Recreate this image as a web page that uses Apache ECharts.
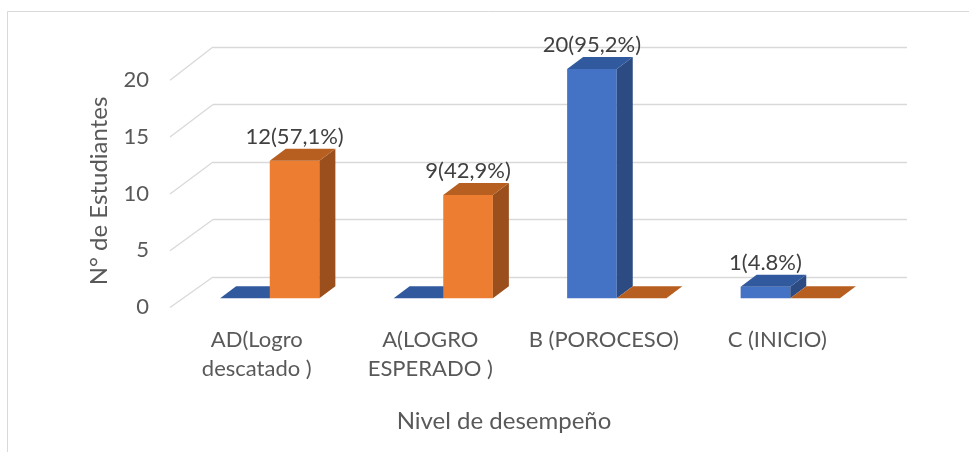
<!DOCTYPE html>
<html>
<head>
<meta charset="utf-8">
<script src="https://cdn.jsdelivr.net/npm/echarts@6/dist/echarts.min.js"></script>
<style>html,body{margin:0;padding:0;background:#fff;}#main{width:969px;height:452px;}</style>
</head>
<body>
<div id="main"></div>
<script>
// ---- data ----
const categories = ['AD(Logro\ndescatado )', 'A(LOGRO\nESPERADO )', 'B (POROCESO)', 'C (INICIO)'];
const blueValues = [0, 0, 20, 1];
const orangeValues = [12, 9, 0, 0];
const blueLabels = ['', '', '20(95,2%)', '1(4.8%)'];
const orangeLabels = ['12(57,1%)', '9(42,9%)', '', ''];
const yTicks = [0, 5, 10, 15, 20];
const xAxisTitle = 'Nivel de desempeño';
const yAxisTitle = 'N° de Estudiantes';

// ---- styling ----
const FONT = 'Lato';
const LABEL_SIZE = 22;
const TITLE_SIZE = 24;
const GRID_COLOR = '#d9d9d9';
const DX = 16, DY = -12;          // bar depth offset
const WALL_DX = -43;              // back wall -> front floor offset
const blueStyle = { front: '#4472C4', top: '#31599E', side: '#2B4B82' };
const orangeStyle = { front: '#ED7D31', top: '#B75F21', side: '#9A4F1C' };

function barRenderer(style, labels, leftSide) {
  return function (params, api) {
    const i = api.value(0), v = api.value(1);
    const base = api.coord([i, 0]);
    const top = api.coord([i, v]);
    const band = api.size([1, 0])[0];
    const w = band * 0.286;
    const x0 = leftSide ? base[0] - w : base[0];
    const x1 = x0 + w;
    const yb = base[1], yt = top[1];
    const children = [];
    if (v > 0) {
      children.push({ type: 'rect', shape: { x: x0, y: yt, width: w, height: yb - yt },
        style: { fill: style.front } });
      children.push({ type: 'polygon', shape: { points: [[x1, yt], [x1 + DX, yt + DY], [x1 + DX, yb + DY], [x1, yb]] },
        style: { fill: style.side } });
    }
    children.push({ type: 'polygon', shape: { points: [[x0, yt], [x0 + DX, yt + DY], [x1 + DX, yt + DY], [x1, yt]] },
      style: { fill: style.top } });
    const lab = labels[params.dataIndex];
    if (lab) {
      children.push({ type: 'text', z2: 10, style: { text: lab, x: (x0 + x1) / 2, y: yt + DY - 1,
        align: 'center', verticalAlign: 'bottom', fill: '#404040',
        font: LABEL_SIZE + 'px ' + FONT } });
    }
    return { type: 'group', children: children };
  };
}

const chart = echarts.init(document.getElementById('main'), null, { renderer: 'canvas' });
chart.setOption({
  animation: false,
  backgroundColor: '#ffffff',
  textStyle: { fontFamily: FONT },
  grid: [
    { left: 213, top: 47, width: 694, height: 230 },   // back wall
    { left: 170, top: 80, width: 694, height: 227 },   // front floor (labels)
    { left: 183, top: 69, width: 694, height: 229.3 }  // bar front plane
  ],
  xAxis: [
    { gridIndex: 0, type: 'category', data: categories, show: false },
    { gridIndex: 1, type: 'category', data: categories,
      axisLine: { show: false }, axisTick: { show: false },
      axisLabel: { fontSize: LABEL_SIZE, lineHeight: 29, color: '#595959', margin: 18, interval: 0, fontFamily: FONT } },
    { gridIndex: 2, type: 'category', data: categories, show: false }
  ],
  yAxis: [
    { gridIndex: 0, type: 'value', min: 0, max: 20, interval: 5,
      axisLine: { show: false }, axisTick: { show: false }, axisLabel: { show: false },
      splitLine: { show: true, lineStyle: { color: GRID_COLOR, width: 1.3 } } },
    { gridIndex: 1, type: 'value', min: 0, max: 20, interval: 5,
      axisLine: { show: false }, axisTick: { show: false }, splitLine: { show: false },
      axisLabel: { fontSize: LABEL_SIZE, color: '#595959', margin: 21, fontFamily: FONT } },
    { gridIndex: 2, type: 'value', min: 0, max: 20, interval: 5, show: false, splitLine: { show: false } }
  ],
  graphic: [
    { type: 'rect', silent: true, shape: { x: 7.5, y: 11.5, width: 1000, height: 500 },
      style: { fill: 'none', stroke: GRID_COLOR, lineWidth: 1 } },
    { type: 'text', x: 504, y: 421, style: { text: xAxisTitle, font: TITLE_SIZE + 'px ' + FONT, fill: '#595959',
      align: 'center', verticalAlign: 'middle' } },
    { type: 'text', x: 99, y: 191, rotation: Math.PI / 2, style: { text: yAxisTitle, font: TITLE_SIZE + 'px ' + FONT,
      fill: '#595959', align: 'center', verticalAlign: 'middle' } }
  ],
  series: [
    { type: 'custom', xAxisIndex: 0, yAxisIndex: 0, z: 1, silent: true,
      data: yTicks.map(v => [0, v]),
      renderItem: function (params, api) {
        const v = api.value(1);
        const p = api.coord([0, v]);
        const x = params.coordSys.x;
        return { type: 'line', shape: { x1: x, y1: p[1], x2: x + WALL_DX, y2: p[1] + 30.5 + 0.14 * v },
          style: { stroke: GRID_COLOR, lineWidth: 1.3 } };
      } },
    { type: 'custom', name: 'blue', xAxisIndex: 2, yAxisIndex: 2, z: 3,
      data: blueValues.map((v, i) => [i, v]),
      renderItem: barRenderer(blueStyle, blueLabels, true) },
    { type: 'custom', name: 'orange', xAxisIndex: 2, yAxisIndex: 2, z: 4,
      data: orangeValues.map((v, i) => [i, v]),
      renderItem: barRenderer(orangeStyle, orangeLabels, false) }
  ]
});
</script>
</body>
</html>
